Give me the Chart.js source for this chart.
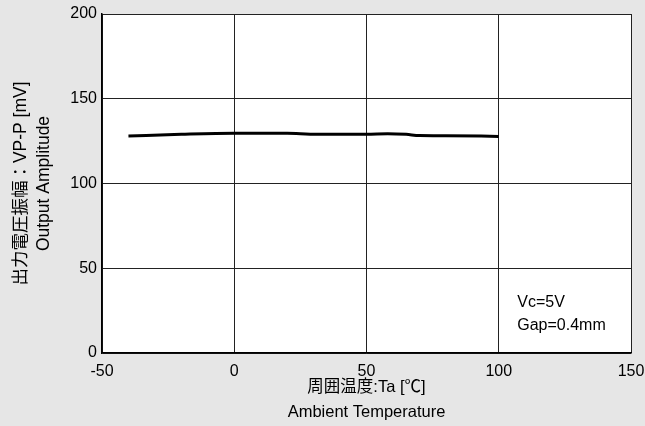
<!DOCTYPE html>
<html>
<head>
<meta charset="utf-8">
<script src="https://cdn.jsdelivr.net/npm/chart.js@4"></script>
<style>
body{margin:0;background:#e6e6e6;}
#wrap{width:645px;height:426px;}
</style>
</head>
<body>
<div id="wrap"><canvas id="grafica" width="645" height="426"></canvas></div>
<script>
// datos
var temperaturas=[-40,-20,0,20,25,30,50,58,65,70,80,100];
var amplitud=[128,129,129.6,129.6,129.4,129,129,129.4,129,128.3,128.2,127.8];
var ticksX=[-50,0,50,100,150];
var ticksY=[0,50,100,150,200];
var notas=["Vc=5V","Gap=0.4mm"];

var fuente="'Liberation Sans', Arial, 'Noto Sans CJK JP', sans-serif";

var fondo={
  id:'fondo',
  beforeDraw:function(chart){
    var ctx=chart.ctx, a=chart.chartArea;
    ctx.save();
    ctx.fillStyle='#e6e6e6';
    ctx.fillRect(0,0,chart.width,chart.height);
    ctx.fillStyle='#ffffff';
    ctx.fillRect(a.left,a.top,a.right-a.left,a.bottom-a.top);
    ctx.restore();
  },
  afterDraw:function(chart){
    var ctx=chart.ctx, sx=chart.scales.x, sy=chart.scales.y;
    ctx.save();
    ctx.fillStyle='#000';
    ctx.font='16px '+fuente;
    ctx.textAlign='left';
    ctx.textBaseline='middle';
    ctx.fillText(notas[0],sx.getPixelForValue(107),sy.getPixelForValue(30));
    ctx.fillText(notas[1],sx.getPixelForValue(107),sy.getPixelForValue(16));
    ctx.restore();
  }
};

var puntos=[];
for(var i=0;i<temperaturas.length;i++){
  puntos.push({x:temperaturas[i],y:amplitud[i]});
}

new Chart(document.getElementById("grafica"),{
  type:'line',
  data:{
    datasets:[{
      data:puntos,
      borderColor:'#000',
      borderWidth:3,
      pointRadius:0,
      fill:false,
      tension:0.3,
      cubicInterpolationMode:'monotone'
    }]
  },
  options:{
    responsive:false,
    animation:false,
    devicePixelRatio:1,
    layout:{padding:{top:14,right:14,left:0,bottom:0}},
    plugins:{legend:{display:false},tooltip:{enabled:false}},
    scales:{
      x:{
        type:'linear',
        min:-50,max:150,
        afterBuildTicks:function(s){ s.ticks=ticksX.map(function(v){return {value:v};}); },
        afterFit:function(s){ s.height=73; s.paddingLeft=0; s.paddingRight=0; },
        grid:{color:'#222',lineWidth:1,drawTicks:false},
        border:{color:'#000',width:1.5},
        ticks:{color:'#000',padding:9,maxRotation:0,font:{family:fuente,size:16}},
        title:{
          display:true,
          text:['周囲温度:Ta [℃]','Ambient Temperature'],
          color:'#000',
          font:{family:fuente,size:16.5,lineHeight:1.5},
          padding:{top:0,bottom:1}
        }
      },
      y:{
        min:0,max:200,
        afterBuildTicks:function(s){ s.ticks=ticksY.map(function(v){return {value:v};}); },
        afterFit:function(s){ s.width=102; s.paddingTop=0; s.paddingBottom=0; },
        grid:{color:'#222',lineWidth:1,drawTicks:false},
        border:{color:'#000',width:1.5},
        ticks:{color:'#000',padding:5,font:{family:fuente,size:16}},
        title:{
          display:true,
          text:['出力電圧振幅：VP-P [mV]','Output Amplitude'],
          color:'#000',
          font:{family:fuente,size:17.5,lineHeight:1.3},
          padding:{top:10,bottom:0}
        }
      }
    }
  },
  plugins:[fondo]
});
</script>
</body>
</html>
